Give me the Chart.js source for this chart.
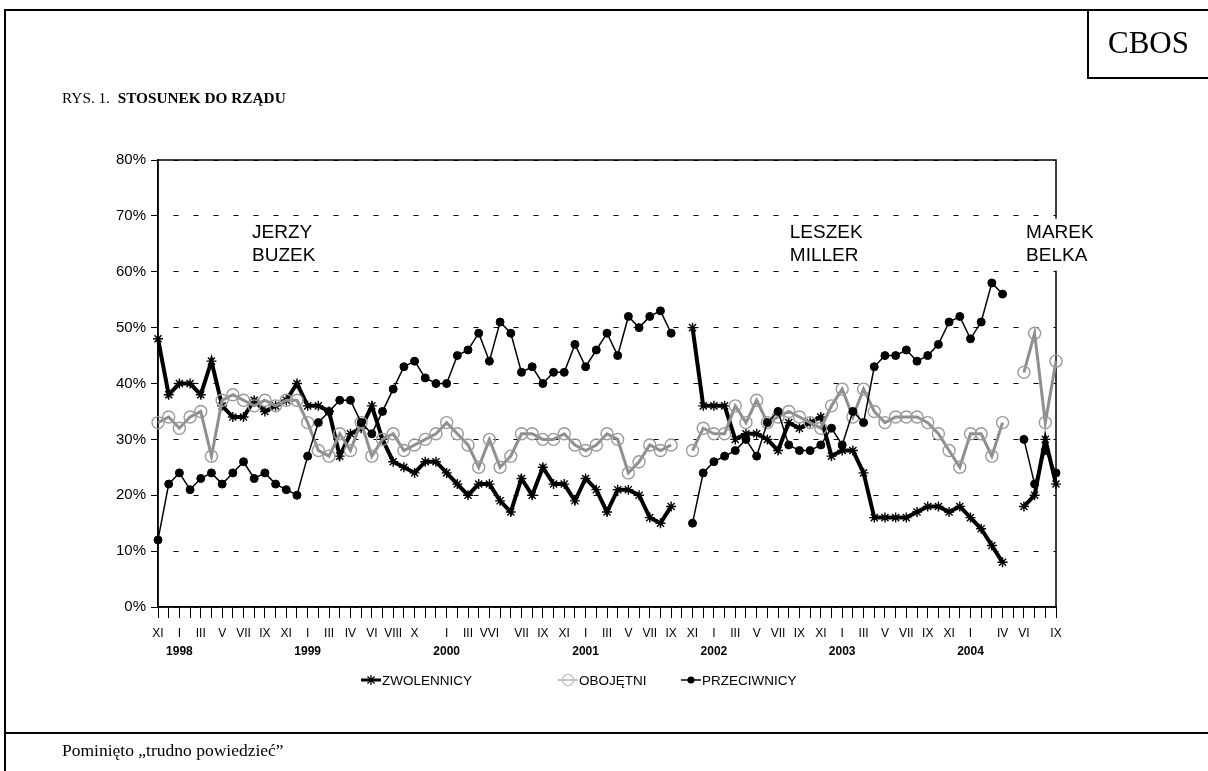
<!DOCTYPE html>
<html><head><meta charset="utf-8">
<script src="https://cdn.jsdelivr.net/npm/chart.js@4.4.1/dist/chart.umd.min.js"></script>
<style>
body{margin:0;background:#fff;}
#page{position:relative;width:1208px;height:771px;overflow:hidden;background:#fff;font-family:"Liberation Serif","Times New Roman",serif;color:#000;}
.ln{position:absolute;background:#000;}
#cbos{position:absolute;left:1089px;top:10px;width:119px;height:67px;line-height:66px;text-align:center;font-size:31px;}
#title{position:absolute;left:62px;top:89px;font-size:15.3px;white-space:nowrap;}
#foot{position:absolute;left:62px;top:740px;font-size:17.5px;white-space:nowrap;}
canvas{position:absolute;left:0;top:0;}
</style></head>
<body><div id="page">
<canvas id="c" width="1208" height="771"></canvas>
<div class="ln" style="left:4px;top:9px;width:1204px;height:2px"></div>
<div class="ln" style="left:4px;top:9px;width:2px;height:762px"></div>
<div class="ln" style="left:1087px;top:10px;width:2px;height:69px"></div>
<div class="ln" style="left:1087px;top:77px;width:121px;height:2px"></div>
<div class="ln" style="left:4px;top:732px;width:1204px;height:2px"></div>
<div id="cbos">CBOS</div>
<div id="title">RYS. 1. &nbsp;<b>STOSUNEK DO RZĄDU</b></div>
<div id="foot">Pominięto „trudno powiedzieć”</div>
</div>
<script>
// ---- category labels (one entry per survey) ----
const months = [
 "XI","","I","","III","","V","","VII","","IX","","XI","","I","","III","","IV","","VI","","VIII","","X","","","I","","III","","VVI","","","VII","","IX","","XI","","I","","III","","V","","VII","","IX","","XI","","I","","III","","V","","VII","","IX","","XI","","I","","III","","V","","VII","","IX","","XI","","I","","","IV","","VI","","","IX"
];
const years = [
 "","","1998","","","","","","","","","","","","1999","","","","","","","","","","","","","2000","","","","","","","","","","","","","2001","","","","","","","","","","","","2002","","","","","","","","","","","","2003","","","","","","","","","","","","2004","","","","","","","",""
];
// ---- series values (%) ----
const zwolennicy = [
 48,38,40,40,38,44,36,34,34,37,35,36,37,40,36,36,35,27,31,32,36,30,26,25,24,26,26,24,22,20,22,22,19,17,23,20,25,22,22,19,23,21,17,21,21,20,16,15,18,null,
 50,36,36,36,30,31,31,30,28,33,32,33,34,27,28,28,24,16,16,16,16,17,18,18,17,18,16,14,11,8,null,
 18,20,30,22
];
const obojetni = [
 33,34,32,34,35,27,37,38,37,36,37,36,37,37,33,28,27,31,28,33,27,30,31,28,29,30,31,33,31,29,25,30,25,27,31,31,30,30,31,29,28,29,31,30,24,26,29,28,29,null,
 28,32,31,31,36,33,37,33,34,35,34,33,32,36,39,34,39,35,33,34,34,34,33,31,28,25,31,31,27,33,null,
 42,49,33,44
];
const przeciwnicy = [
 12,22,24,21,23,24,22,24,26,23,24,22,21,20,27,33,35,37,37,33,31,35,39,43,44,41,40,40,45,46,49,44,51,49,42,43,40,42,42,47,43,46,49,45,52,50,52,53,49,null,
 15,24,26,27,28,30,27,33,35,29,28,28,29,32,29,35,33,43,45,45,46,44,45,47,51,52,48,51,58,56,null,
 30,22,28,24
];
const seriesNames = ["ZWOLENNICY","OBOJĘTNI","PRZECIWNICY"];
const yTickValues = [0,10,20,30,40,50,60,70,80];
const notes = [
  {lines:["JERZY","BUZEK"], at:8.8, val:67.0, box:false},
  {lines:["LESZEK","MILLER"], at:59.1, val:67.0, box:false},
  {lines:["MAREK","BELKA"], at:81.2, val:67.0, box:true}
];

const SANS = '"Liberation Sans", Arial, sans-serif';
Chart.defaults.font.family = SANS;
Chart.defaults.color = '#000';

const GRAY = '#8f8f8f';

function drawStar(ctx, cx, cy, r){
  ctx.beginPath();
  for(let k=0;k<4;k++){
    const a = k*Math.PI/4;
    ctx.moveTo(cx - r*Math.cos(a), cy - r*Math.sin(a));
    ctx.lineTo(cx + r*Math.cos(a), cy + r*Math.sin(a));
  }
  ctx.stroke();
}

const decor = {
  id:'decor',
  beforeDatasetsDraw(chart){
    const {ctx, chartArea:a} = chart;
    ctx.save();
    ctx.strokeStyle = '#000'; ctx.lineWidth = 1.5;
    ctx.strokeRect(a.left, a.top, a.right - a.left, a.bottom - a.top);
    ctx.restore();
  },
  afterDatasetsDraw(chart){
    const {ctx} = chart;
    const xs = chart.scales.x, ys = chart.scales.y;
    ctx.save();
    ctx.font = '19px ' + SANS;
    ctx.textBaseline = 'middle'; ctx.textAlign = 'left';
    notes.forEach(n => {
      const px = xs.getPixelForValue(n.at), py = ys.getPixelForValue(n.val);
      if(n.box){ ctx.fillStyle = '#fff'; ctx.fillRect(px - 5, py - 14, 85, 52); }
      ctx.fillStyle = '#000';
      n.lines.forEach((t,i) => ctx.fillText(t, px, py + i*23));
    });
    // legend
    const ly = 680;
    const lx = [361, 558, 681];
    const ds = chart.data.datasets;
    ctx.font = '13.5px ' + SANS;
    ds.forEach((d,i) => {
      const x0 = lx[i], cx = x0 + 10;
      ctx.lineCap = 'butt';
      ctx.strokeStyle = i === 1 ? '#b4b4b4' : '#000';
      ctx.lineWidth = i === 0 ? 3 : 1.5;
      ctx.beginPath(); ctx.moveTo(x0, ly); ctx.lineTo(x0 + 20, ly); ctx.stroke();
      if(i === 0){ ctx.lineWidth = 1.3; drawStar(ctx, cx, ly, 5); }
      else if(i === 1){ ctx.lineWidth = 1.2; ctx.beginPath(); ctx.arc(cx, ly, 5.5, 0, 2*Math.PI); ctx.stroke(); }
      else { ctx.fillStyle = '#000'; ctx.beginPath(); ctx.arc(cx, ly, 3.5, 0, 2*Math.PI); ctx.fill(); }
      ctx.fillStyle = '#000';
      ctx.fillText(d.label, x0 + 21, ly + 1);
    });
    ctx.restore();
  }
};

new Chart(document.getElementById('c'), {
  type:'line',
  data:{
    labels: months,
    datasets:[
      {label:seriesNames[0], data:zwolennicy, borderColor:'#000', borderWidth:4, tension:0,
       pointStyle:'star', pointRadius:5, pointBorderWidth:1.4, pointBorderColor:'#000', pointBackgroundColor:'#000',
       order:3, clip:false, spanGaps:false},
      {label:seriesNames[1], data:obojetni, borderColor:GRAY, borderWidth:3, tension:0,
       pointStyle:'circle', pointRadius:6, pointBorderWidth:1.4, pointBorderColor:'#9a9a9a', pointBackgroundColor:'rgba(255,255,255,0)',
       order:2, clip:false, spanGaps:false},
      {label:seriesNames[2], data:przeciwnicy, borderColor:'#000', borderWidth:1.5, tension:0,
       pointStyle:'circle', pointRadius:4, pointBorderWidth:1, pointBorderColor:'#000', pointBackgroundColor:'#000',
       order:1, clip:false, spanGaps:false}
    ]
  },
  options:{
    responsive:false, animation:false, events:[],
    layout:{padding:{left:58, right:152, top:160, bottom:108}},
    plugins:{legend:{display:false}, tooltip:{enabled:false}, title:{display:false}},
    scales:{
      x:{type:'category', labels:months, offset:false, position:'bottom', weight:0,
         grid:{display:true, drawOnChartArea:false, drawTicks:true, tickLength:11, tickColor:'#000', tickWidth:1, tickBorderDash:[]},
         border:{display:true, color:'#000', width:1.5},
         ticks:{autoSkip:false, maxRotation:0, minRotation:0, padding:8, color:'#000', font:{size:12}},
         afterFit(s){ s.height = 36; }},
      x2:{type:'category', labels:years, offset:false, position:'bottom', weight:1,
         grid:{display:false, drawTicks:false}, border:{display:false},
         ticks:{autoSkip:false, maxRotation:0, minRotation:0, padding:1, color:'#000', font:{size:12, weight:'bold'}},
         afterFit(s){ s.height = 20; }},
      y:{type:'linear', min:0, max:80, position:'left',
         afterBuildTicks(s){ s.ticks = yTickValues.map(v => ({value:v})); },
         ticks:{padding:5, color:'#000', font:{size:15}, callback:v => v + '%'},
         grid:{color:'#000', lineWidth:1, tickLength:7, tickColor:'#000', tickWidth:1, tickBorderDash:[]},
         border:{display:true, color:'#000', width:1.5, dash:[5,15], dashOffset:5},
         afterFit(s){ s.width = 100; }}
    }
  },
  plugins:[decor]
});
</script>
</body></html>
